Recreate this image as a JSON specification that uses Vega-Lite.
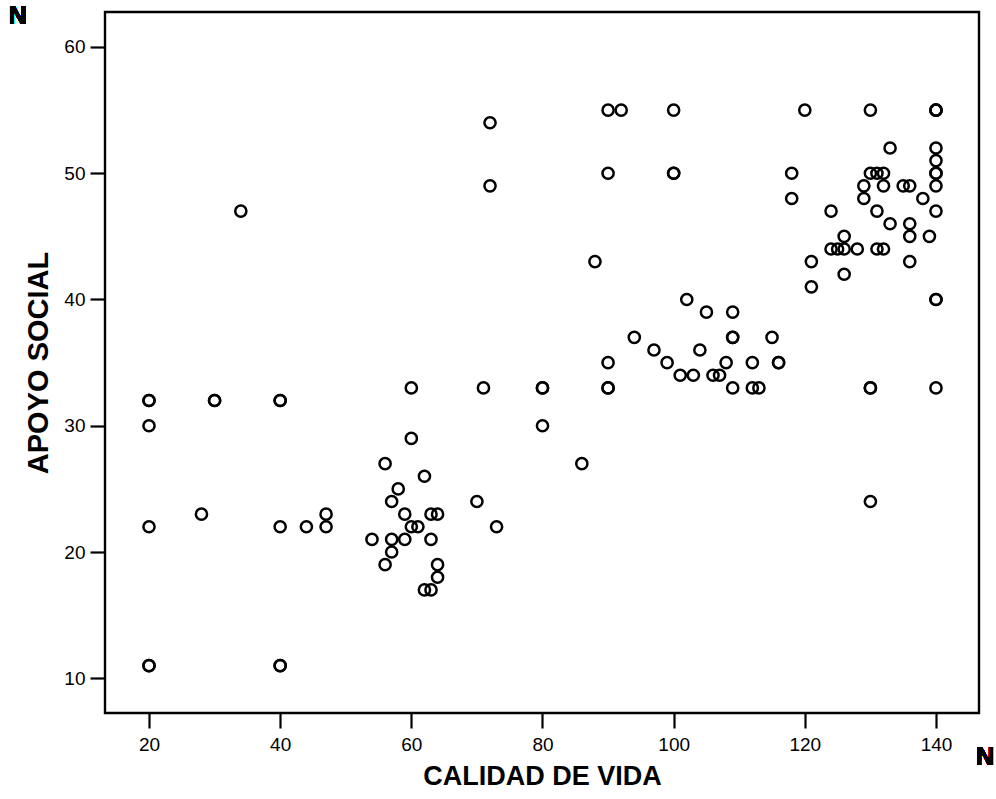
{
  "$schema": "https://vega.github.io/schema/vega-lite/v6.json",
  "autosize": "none",
  "padding": {"left": 105, "top": 12, "right": 17, "bottom": 86},
  "width": 874,
  "height": 701,
  "background": "white",
  "config": {
    "view": {"stroke": "black", "strokeWidth": 2.4},
    "font": "Liberation Sans"
  },
  "data": {
    "values": [
      {"calidad": 20, "apoyo": 32}, {"calidad": 20, "apoyo": 32}, {"calidad": 20, "apoyo": 30}, {"calidad": 20, "apoyo": 22},
      {"calidad": 20, "apoyo": 11}, {"calidad": 20, "apoyo": 11}, {"calidad": 28, "apoyo": 23}, {"calidad": 30, "apoyo": 32},
      {"calidad": 30, "apoyo": 32}, {"calidad": 34, "apoyo": 47}, {"calidad": 40, "apoyo": 32}, {"calidad": 40, "apoyo": 32},
      {"calidad": 40, "apoyo": 22}, {"calidad": 40, "apoyo": 11}, {"calidad": 40, "apoyo": 11}, {"calidad": 44, "apoyo": 22},
      {"calidad": 47, "apoyo": 23}, {"calidad": 47, "apoyo": 22},
      {"calidad": 56, "apoyo": 27}, {"calidad": 62, "apoyo": 26}, {"calidad": 58, "apoyo": 25}, {"calidad": 57, "apoyo": 24},
      {"calidad": 70, "apoyo": 24}, {"calidad": 59, "apoyo": 23}, {"calidad": 63, "apoyo": 23}, {"calidad": 64, "apoyo": 23},
      {"calidad": 60, "apoyo": 22}, {"calidad": 61, "apoyo": 22}, {"calidad": 54, "apoyo": 21}, {"calidad": 57, "apoyo": 21},
      {"calidad": 59, "apoyo": 21}, {"calidad": 63, "apoyo": 21}, {"calidad": 57, "apoyo": 20}, {"calidad": 56, "apoyo": 19},
      {"calidad": 64, "apoyo": 19}, {"calidad": 64, "apoyo": 18}, {"calidad": 62, "apoyo": 17}, {"calidad": 63, "apoyo": 17},
      {"calidad": 60, "apoyo": 29}, {"calidad": 60, "apoyo": 33}, {"calidad": 71, "apoyo": 33}, {"calidad": 72, "apoyo": 54},
      {"calidad": 72, "apoyo": 49}, {"calidad": 73, "apoyo": 22}, {"calidad": 80, "apoyo": 33}, {"calidad": 80, "apoyo": 33},
      {"calidad": 80, "apoyo": 30}, {"calidad": 86, "apoyo": 27}, {"calidad": 88, "apoyo": 43},
      {"calidad": 90, "apoyo": 55}, {"calidad": 92, "apoyo": 55}, {"calidad": 90, "apoyo": 50}, {"calidad": 100, "apoyo": 55},
      {"calidad": 100, "apoyo": 50}, {"calidad": 100, "apoyo": 50},
      {"calidad": 90, "apoyo": 35}, {"calidad": 90, "apoyo": 33}, {"calidad": 90, "apoyo": 33}, {"calidad": 94, "apoyo": 37},
      {"calidad": 97, "apoyo": 36}, {"calidad": 99, "apoyo": 35}, {"calidad": 101, "apoyo": 34}, {"calidad": 103, "apoyo": 34},
      {"calidad": 104, "apoyo": 36}, {"calidad": 106, "apoyo": 34}, {"calidad": 107, "apoyo": 34}, {"calidad": 108, "apoyo": 35},
      {"calidad": 109, "apoyo": 37}, {"calidad": 109, "apoyo": 37}, {"calidad": 109, "apoyo": 33}, {"calidad": 112, "apoyo": 35},
      {"calidad": 112, "apoyo": 33}, {"calidad": 113, "apoyo": 33}, {"calidad": 115, "apoyo": 37}, {"calidad": 116, "apoyo": 35},
      {"calidad": 116, "apoyo": 35}, {"calidad": 102, "apoyo": 40}, {"calidad": 105, "apoyo": 39}, {"calidad": 109, "apoyo": 39},
      {"calidad": 121, "apoyo": 41}, {"calidad": 120, "apoyo": 55}, {"calidad": 130, "apoyo": 55}, {"calidad": 140, "apoyo": 55},
      {"calidad": 140, "apoyo": 55}, {"calidad": 140, "apoyo": 55}, {"calidad": 133, "apoyo": 52}, {"calidad": 140, "apoyo": 52},
      {"calidad": 140, "apoyo": 51}, {"calidad": 118, "apoyo": 50}, {"calidad": 130, "apoyo": 50}, {"calidad": 131, "apoyo": 50},
      {"calidad": 132, "apoyo": 50}, {"calidad": 140, "apoyo": 50}, {"calidad": 140, "apoyo": 50}, {"calidad": 129, "apoyo": 49},
      {"calidad": 132, "apoyo": 49}, {"calidad": 135, "apoyo": 49}, {"calidad": 136, "apoyo": 49}, {"calidad": 140, "apoyo": 49},
      {"calidad": 118, "apoyo": 48}, {"calidad": 129, "apoyo": 48}, {"calidad": 138, "apoyo": 48}, {"calidad": 124, "apoyo": 47},
      {"calidad": 131, "apoyo": 47}, {"calidad": 140, "apoyo": 47}, {"calidad": 133, "apoyo": 46}, {"calidad": 136, "apoyo": 46},
      {"calidad": 126, "apoyo": 45}, {"calidad": 136, "apoyo": 45}, {"calidad": 139, "apoyo": 45}, {"calidad": 124, "apoyo": 44},
      {"calidad": 125, "apoyo": 44}, {"calidad": 126, "apoyo": 44}, {"calidad": 128, "apoyo": 44}, {"calidad": 131, "apoyo": 44},
      {"calidad": 132, "apoyo": 44}, {"calidad": 121, "apoyo": 43}, {"calidad": 136, "apoyo": 43}, {"calidad": 126, "apoyo": 42},
      {"calidad": 140, "apoyo": 40}, {"calidad": 140, "apoyo": 40}, {"calidad": 130, "apoyo": 33}, {"calidad": 130, "apoyo": 33},
      {"calidad": 140, "apoyo": 33}, {"calidad": 130, "apoyo": 24}
    ]
  },
  "layer": [
    {
      "mark": {"type": "point", "shape": "circle", "filled": false, "size": 125, "strokeWidth": 2.5, "color": "black", "opacity": 1},
      "encoding": {
        "x": {
          "field": "calidad", "type": "quantitative",
          "scale": {"domain": [13.29, 146.56], "nice": false, "zero": false},
          "axis": {
            "title": "CALIDAD DE VIDA", "values": [20, 40, 60, 80, 100, 120, 140],
            "grid": false, "domain": false, "tickColor": "black", "tickWidth": 2.2, "tickSize": 15,
            "labelColor": "black", "labelFontSize": 19, "labelPadding": 7, "labelFont": "Liberation Sans",
            "titleColor": "black", "titleFontSize": 27, "titleFont": "Liberation Sans", "titleFontWeight": "bold", "titlePadding": 9
          }
        },
        "y": {
          "field": "apoyo", "type": "quantitative",
          "scale": {"domain": [7.25, 62.77], "nice": false, "zero": false},
          "axis": {
            "title": "APOYO SOCIAL", "values": [10, 20, 30, 40, 50, 60],
            "grid": false, "domain": false, "tickColor": "black", "tickWidth": 2.2, "tickSize": 15,
            "labelColor": "black", "labelFontSize": 19, "labelPadding": 5, "labelFont": "Liberation Sans",
            "titleColor": "black", "titleFontSize": 29, "titleFont": "Liberation Sans", "titleFontWeight": "bold", "titlePadding": 10
          }
        }
      }
    },
    {
      "mark": {"type": "text", "text": "N", "font": "Liberation Sans", "fontWeight": "bold", "fontSize": 25, "color": "black", "align": "center", "baseline": "middle"},
      "encoding": {"x": {"datum": 0}, "y": {"datum": 62.45}}
    },
    {
      "mark": {"type": "text", "text": "N", "font": "Liberation Sans", "fontWeight": "bold", "fontSize": 25, "color": "black", "align": "center", "baseline": "middle"},
      "encoding": {"x": {"datum": 147.47}, "y": {"datum": 3.77}}
    }
  ]
}
